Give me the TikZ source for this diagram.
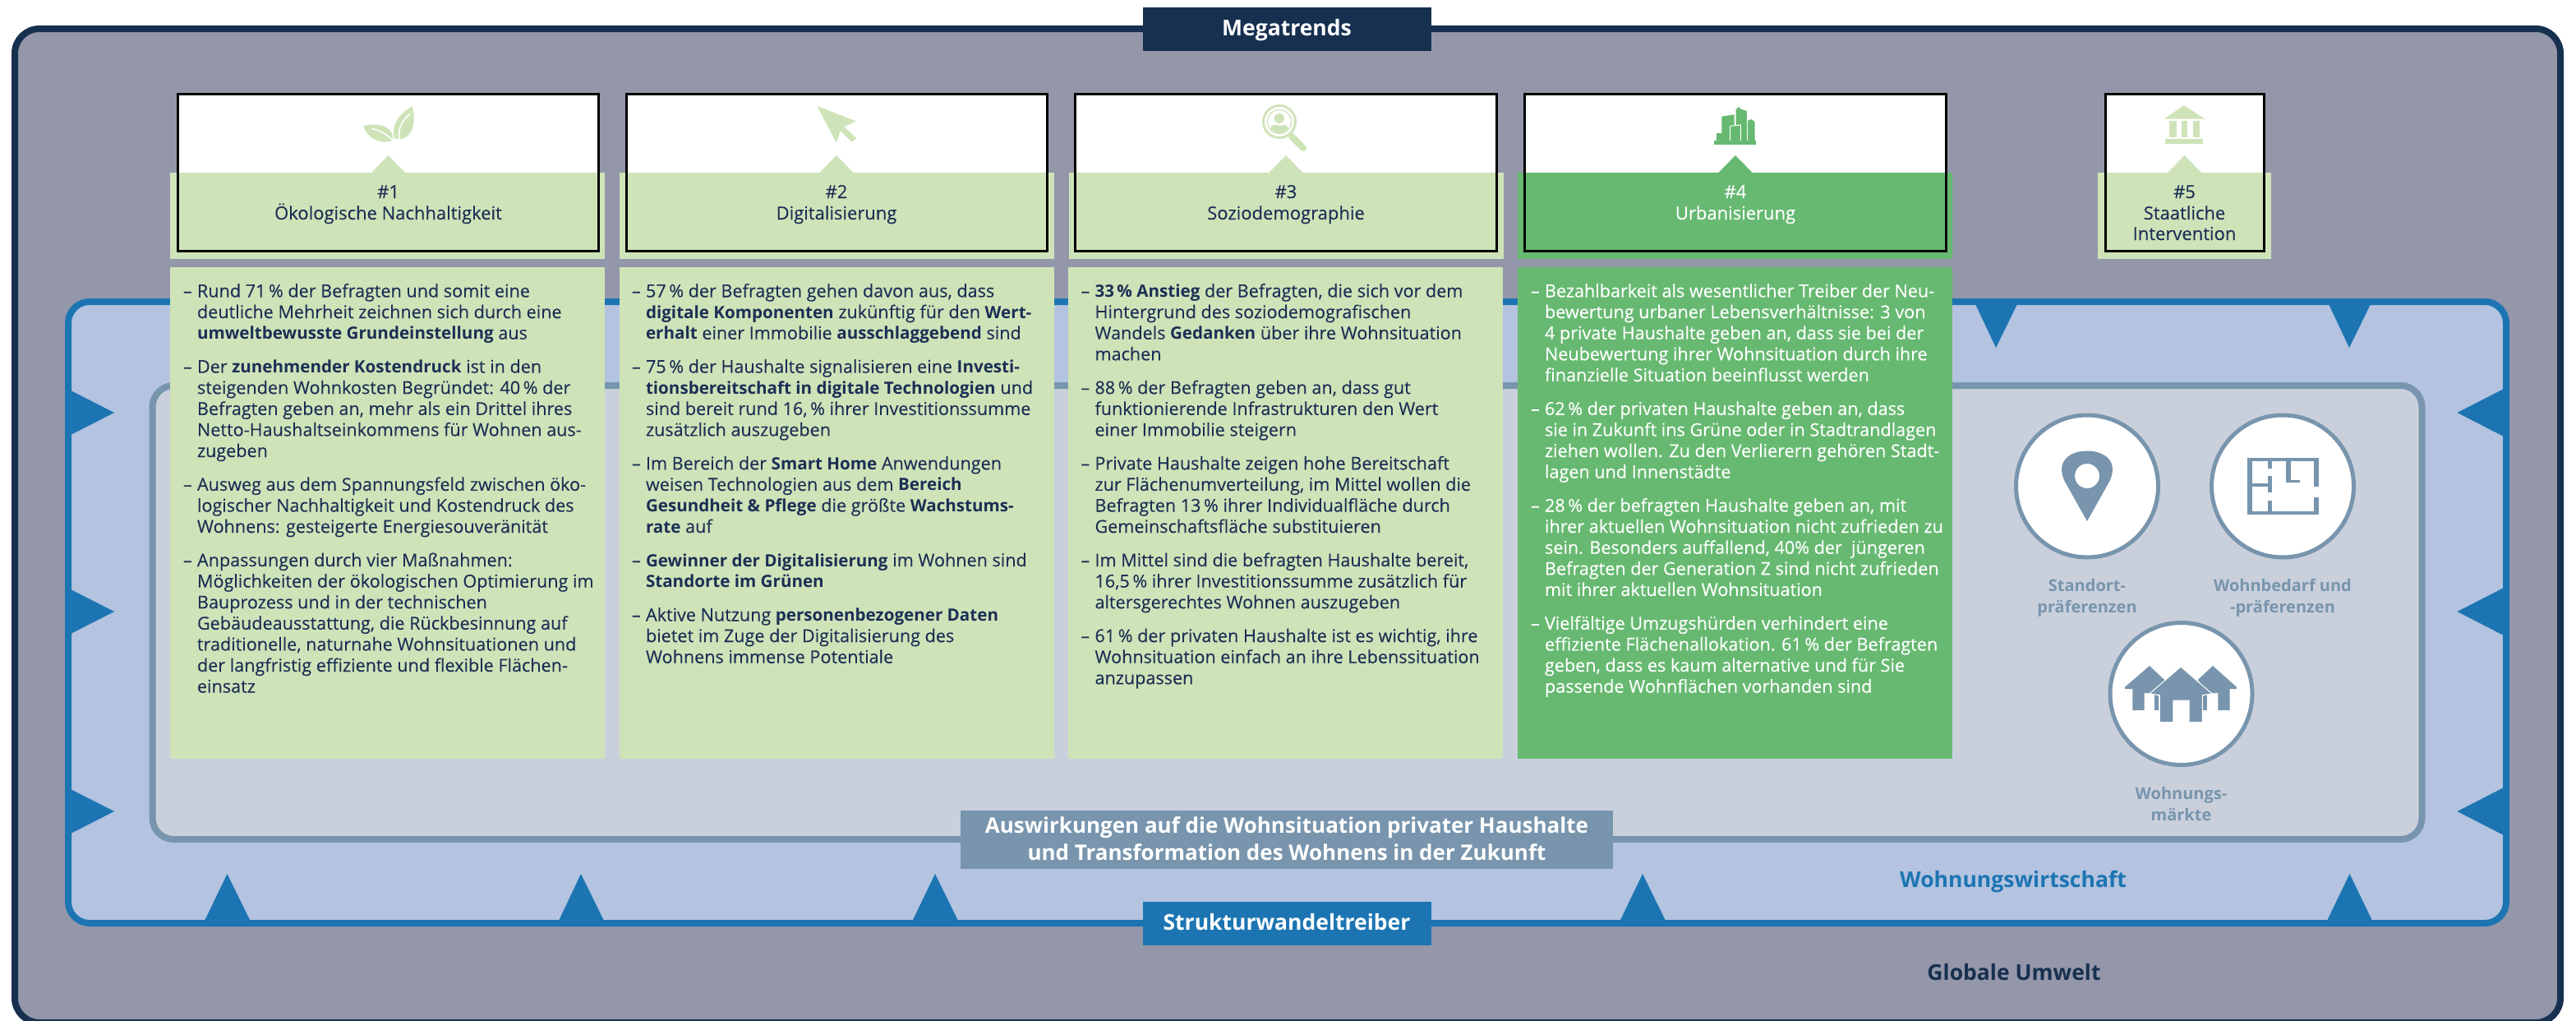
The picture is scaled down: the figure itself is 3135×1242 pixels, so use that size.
\documentclass[tikz,border=0pt]{standalone}
\usepackage{fontspec}
\setmainfont{Open Sans}[UprightFeatures={FakeBold=0.12}]
\newfontfamily\hv{Open Sans}
\renewcommand\textbf[1]{{\hv\bfseries\fontsize{20.6}{25.6}\selectfont #1}}
\definecolor{navy}{HTML}{17304F}
\definecolor{ink}{HTML}{1B2F55}
\definecolor{globe}{HTML}{9497A9}
\definecolor{mblue}{HTML}{1C75B2}
\definecolor{lblue}{HTML}{B3C3E0}
\definecolor{sgray}{HTML}{7895AD}
\definecolor{pale}{HTML}{C9D0DC}
\definecolor{lgreen}{HTML}{CFE3B9}
\definecolor{dgreen}{HTML}{67B971}
\newcommand\FF[1]{\par\noindent\makebox[17pt][l]{–}#1}
\newcommand\FL[1]{\par\vspace{15.3pt}\noindent\makebox[17pt][l]{–}#1}
\newcommand\NL[1]{\par\noindent\hspace*{17pt}#1}
\newcommand\pc{\,\%}
\newcommand\panelfont{\fontsize{21.6}{25.6}\selectfont}
\tikzset{
  txt/.style={inner sep=0pt,outer sep=0pt,font=\fontsize{22}{25}\selectfont,text=ink,anchor=base},
  heavy/.style={inner sep=0pt,outer sep=0pt,font=\hv\bfseries\fontsize{26.5}{33}\selectfont,anchor=base},
  heavyb/.style={inner sep=0pt,outer sep=0pt,font=\hv\bfseries\fontsize{26}{33}\selectfont,anchor=base},
  captxt/.style={inner sep=0pt,outer sep=0pt,font=\hv\bfseries\fontsize{20}{26}\selectfont,text=sgray,anchor=base},
  bodytxt/.style={inner sep=0pt,outer sep=0pt,anchor=base west},
  ringdisc/.style={draw=sgray,line width=5pt,fill=white},
}
\begin{document}
\begin{tikzpicture}[x=1pt,y=-1pt]
\useasboundingbox (0,0) rectangle (3135,1242);
\begin{scope}
\clip (0,0) rectangle (3135,1242);
\draw[navy,fill=globe,line width=8pt,rounded corners=30pt] (18,35) rectangle (3116,1244);
\end{scope}
% Wohnungswirtschaft
\draw[mblue,fill=lblue,line width=8pt,rounded corners=26pt] (83,367) rectangle (3050,1123);
\draw[sgray,fill=pale,line width=8pt,rounded corners=26pt] (185.5,469) rectangle (2947.5,1021);
% triangles
\foreach \a/\b/\c in {249/276.5/304.5,680/707/735,1110.5/1138/1166,1971.6/1999/2027,2832/2859.5/2887}
  \fill[mblue] (\a,1120) -- (\b,1063) -- (\c,1120) -- cycle;
\foreach \a/\b/\c in {2404/2429/2455,2834/2859/2885}
  \fill[mblue] (\a,370) -- (\b,423) -- (\c,370) -- cycle;
\foreach \m in {502,744,987}{
  \fill[mblue] (86,\m-27) -- (139,\m) -- (86,\m+27) -- cycle;
  \fill[mblue] (3047,\m-29) -- (2990.5,\m) -- (3047,\m+29) -- cycle;
}
% cards: white, band, triangle
\foreach \xa/\xb/\ba/\bb/\cc/\col in {216/728.5/207/736/472.5/lgreen,762/1274/754/1283/1018/lgreen,1308/1821.5/1301/1830/1565/lgreen,1855.5/2368/1847/2376/2112/dgreen,2562/2755/2553/2764/2658.5/lgreen}{
  \fill[white] (\xa,114) rectangle (\xb,212);
  \fill[\col] (\ba,210) rectangle (\bb,315);
  \fill[\col] (\cc-21,210.5) -- (\cc,189) -- (\cc+21,210.5) -- cycle;
  \draw[black,line width=3pt] (\xa,114.5) rectangle (\xb,305.5);
}
% panels
\fill[lgreen] (207,325) rectangle (736,923);
\fill[lgreen] (754,325) rectangle (1283,923);
\fill[lgreen] (1300,325) rectangle (1829,923);
\fill[dgreen] (1847,325) rectangle (2376,923);
% icons
\begin{scope}[shift={(0,0)},x=0.4847pt,y=-0.3333pt]
\fill[lgreen] (1035,388) .. controls (1000,415) and (982,460) .. (990,505) -- (1008,508) .. controls (1045,490) and (1042,430) .. cycle;
\draw[white,line width=1.5pt] (1030,415) .. controls (1005,445) and (1000,475) .. (1002,510);
\fill[lgreen] (912,460) .. controls (935,450) and (975,450) .. (985,490) -- (987,512) .. controls (960,530) and (925,510) .. cycle;
\draw[white,line width=1.5pt] (935,470) .. controls (955,475) and (975,495) .. (987,512);
\end{scope}
\begin{scope}[shift={(900,90)},x=0.6378pt,y=-0.3333pt]
\fill[lgreen] (148,117) -- (222,172) -- (200,193) -- (223,235) -- (214,248) -- (192,207) -- (185,252) -- cycle;
\end{scope}
\draw[lgreen,line width=3pt] (1557,148) circle [radius=19.5];
\draw[lgreen,line width=1.2pt] (1557,148) circle [radius=14.5];
\fill[lgreen] (1557,144) circle [radius=6];
\fill[lgreen] (1546,156) .. controls (1548,150) and (1552,152) .. (1557,153) .. controls (1562,152) and (1566,150) .. (1568,156) .. controls (1562,164) and (1552,164) .. cycle;
\draw[lgreen,line width=8pt,line cap=round] (1572,166) -- (1586,180);
\begin{scope}[shift={(1800,90)},x=0.6378pt,y=-0.3333pt]
\fill[dgreen] (448,243) rectangle (528,258);
\fill[dgreen] (453,215) rectangle (478,245);
\fill[dgreen] (463,155) -- (487,148) -- (487,245) -- (463,245) -- cycle;
\fill[dgreen] (490,130) -- (496,120) -- (499,128) -- (511,135) -- (511,245) -- (490,245) -- cycle;
\fill[dgreen] (513,170) -- (520,165) -- (526,175) -- (526,245) -- (513,245) -- cycle;
\draw[white,line width=1pt,fill=dgreen] (479,243) -- (479,190) -- (499,186) -- (499,243);
\fill[lgreen] (1345,115) -- (1385,164) -- (1307,164) -- cycle;
\fill[lgreen] (1317,171) rectangle (1331,232);
\fill[lgreen] (1340,171) rectangle (1352,232);
\fill[lgreen] (1362,171) rectangle (1375,232);
\fill[lgreen] (1309,237) rectangle (1382,254);
\end{scope}
% circles
\draw[ringdisc] (2540,591.5) circle [radius=86.5];
\draw[ringdisc] (2778,591.5) circle [radius=86.5];
\draw[ringdisc] (2654.5,844) circle [radius=86.5];
% pin
\fill[sgray,even odd rule] (2540,634) -- (2513,586) .. controls (2501,562) and (2518,548.5) .. (2540,548.5) .. controls (2562,548.5) and (2579,562) .. (2567,586) -- cycle (2540,579) circle [radius=15];
\begin{scope}[shift={(2380,470)},x=0.4815pt,y=-0.3571pt]
% floor plan
\fill[sgray] (738,244) rectangle (918,256);
\fill[sgray] (738,244) rectangle (750,438);
\fill[sgray] (738,425) rectangle (918,438);
\fill[sgray] (906,244) rectangle (918,343);
\fill[sgray] (906,378) rectangle (918,438);
\fill[sgray] (790,256) rectangle (800,280);
\fill[sgray] (790,305) rectangle (800,362);
\fill[sgray] (790,388) rectangle (800,425);
\fill[sgray] (750,330) rectangle (790,343);
\fill[sgray] (835,256) rectangle (847,328);
\fill[sgray] (835,318) rectangle (870,328);
% houses
\fill[sgray] (490,952) -- (528,1000) -- (500,1047) -- (513,1055) -- (513,1103) -- (503,1103) -- (503,1045) -- (477,1045) -- (477,1103) -- (447,1103) -- (447,1031) -- (428,1031) -- (428,1024) -- cycle;
\fill[sgray] (650,952) -- (710,1024) -- (710,1031) -- (693,1031) -- (693,1103) -- (663,1103) -- (663,1045) -- (635,1045) -- (635,1103) -- (625,1103) -- (625,1055) -- (640,1047) -- (612,1000) -- cycle;
\draw[white,line width=1pt,fill=sgray] (569,955) -- (648,1047) -- (624,1052) -- (624,1144) -- (590,1144) -- (590,1070) -- (550,1070) -- (550,1144) -- (516,1144) -- (516,1052) -- (490,1047) -- cycle;
\end{scope}
% top and bottom labels
\fill[navy] (1391,9) rectangle (1742,62);
\fill[mblue] (1391,1097) rectangle (1742,1150);
\fill[sgray] (1169,986) rectangle (1963,1057);
\node[heavy,text=white] (mega) at (1566,43) {Megatrends};
\node[heavy,text=white] (struktur) at (1566,1131) {Strukturwandeltreiber};
\node[heavyb,text=white] (auswirk) at (1566,1013) {Auswirkungen auf die Wohnsituation privater Haushalte};
\node[heavyb,text=white] (auswirkb) at (1566,1046) {und Transformation des Wohnens in der Zukunft};
\node[heavy,text=mblue] (wirtschaft) at (2450,1079) {Wohnungswirtschaft};
\node[heavy,text=navy] (globale) at (2451,1192) {Globale Umwelt};
% card titles
\node[txt] (n1) at (472.5,241) {\#1};
\node[txt] (t1) at (472.5,267) {Ökologische Nachhaltigkeit};
\node[txt] (n2) at (1018,241) {\#2};
\node[txt] (t2) at (1018,267) {Digitalisierung};
\node[txt] (n3) at (1565,241) {\#3};
\node[txt] (t3) at (1565,267) {Soziodemographie};
\node[txt,text=white] (n4) at (2112,241) {\#4};
\node[txt,text=white] (t4) at (2112,267) {Urbanisierung};
\node[txt] (n5) at (2658.5,241) {\#5};
\node[txt] (t5) at (2658.5,267) {Staatliche};
\node[txt] (t5b) at (2658.5,292) {Intervention};
% captions
\node[captxt] (c1) at (2540,719) {Standort-};
\node[captxt] (c1b) at (2540,745) {präferenzen};
\node[captxt] (c2) at (2778,719) {Wohnbedarf und};
\node[captxt] (c2b) at (2778,745) {-präferenzen};
\node[captxt] (c3) at (2654.5,972.5) {Wohnungs-};
\node[captxt] (c3b) at (2654.5,998) {märkte};
% panel bodies
\node[bodytxt,text=ink] (p1) at (223,361.5) {\begin{minipage}[t]{520pt}\panelfont
\FF{Rund 71\pc{} der Befragten und somit eine}
\NL{deutliche Mehrheit zeichnen sich durch eine}
\NL{\textbf{umweltbewusste Grundeinstellung} aus}
\FL{Der \textbf{zunehmender Kostendruck} ist in den}
\NL{steigenden Wohnkosten Begründet: 40\pc{} der}
\NL{Befragten geben an, mehr als ein Drittel ihres}
\NL{Netto-Haushaltseinkommens für Wohnen aus-}
\NL{zugeben}
\FL{Ausweg aus dem Spannungsfeld zwischen öko-}
\NL{logischer Nachhaltigkeit und Kostendruck des}
\NL{Wohnens: gesteigerte Energiesouveränität}
\FL{Anpassungen durch vier Maßnahmen:}
\NL{Möglichkeiten der ökologischen Optimierung im}
\NL{Bauprozess und in der technischen}
\NL{Gebäudeausstattung, die Rückbesinnung auf}
\NL{traditionelle, naturnahe Wohnsituationen und}
\NL{der langfristig effiziente und flexible Flächen-}
\NL{einsatz}
\end{minipage}};
\node[bodytxt,text=ink] (p2) at (769,361.5) {\begin{minipage}[t]{520pt}\panelfont
\FF{57\pc{} der Befragten gehen davon aus, dass}
\NL{\textbf{digitale Komponenten} zukünftig für den \textbf{Wert-}}
\NL{\textbf{erhalt} einer Immobilie \textbf{ausschlaggebend} sind}
\FL{75\pc{} der Haushalte signalisieren eine \textbf{Investi-}}
\NL{\textbf{tionsbereitschaft in digitale Technologien} und}
\NL{sind bereit rund 16,\pc{} ihrer Investitionssumme}
\NL{zusätzlich auszugeben}
\FL{Im Bereich der \textbf{Smart Home} Anwendungen}
\NL{weisen Technologien aus dem \textbf{Bereich}}
\NL{\textbf{Gesundheit \& Pflege} die größte \textbf{Wachstums-}}
\NL{\textbf{rate} auf}
\FL{\textbf{Gewinner der Digitalisierung} im Wohnen sind}
\NL{\textbf{Standorte im Grünen}}
\FL{Aktive Nutzung \textbf{personenbezogener Daten}}
\NL{bietet im Zuge der Digitalisierung des}
\NL{Wohnens immense Potentiale}
\end{minipage}};
\node[bodytxt,text=ink] (p3) at (1315.5,361.5) {\begin{minipage}[t]{520pt}\panelfont
\FF{\textbf{33\pc{} Anstieg} der Befragten, die sich vor dem}
\NL{Hintergrund des soziodemografischen}
\NL{Wandels \textbf{Gedanken} über ihre Wohnsituation}
\NL{machen}
\FL{88\pc{} der Befragten geben an, dass gut}
\NL{funktionierende Infrastrukturen den Wert}
\NL{einer Immobilie steigern}
\FL{Private Haushalte zeigen hohe Bereitschaft}
\NL{zur Flächenumverteilung, im Mittel wollen die}
\NL{Befragten 13\pc{} ihrer Individualfläche durch}
\NL{Gemeinschaftsfläche substituieren}
\FL{Im Mittel sind die befragten Haushalte bereit,}
\NL{16,5\pc{} ihrer Investitionssumme zusätzlich für}
\NL{altersgerechtes Wohnen auszugeben}
\FL{61\pc{} der privaten Haushalte ist es wichtig, ihre}
\NL{Wohnsituation einfach an ihre Lebenssituation}
\NL{anzupassen}
\end{minipage}};
\node[bodytxt,text=white] (p4) at (1863,361.5) {\begin{minipage}[t]{520pt}\panelfont
\FF{Bezahlbarkeit als wesentlicher Treiber der Neu-}
\NL{bewertung urbaner Lebensverhältnisse: 3 von}
\NL{4 private Haushalte geben an, dass sie bei der}
\NL{Neubewertung ihrer Wohnsituation durch ihre}
\NL{finanzielle Situation beeinflusst werden}
\FL{62\pc{} der privaten Haushalte geben an, dass}
\NL{sie in Zukunft ins Grüne oder in Stadtrandlagen}
\NL{ziehen wollen. Zu den Verlierern gehören Stadt-}
\NL{lagen und Innenstädte}
\FL{28\pc{} der befragten Haushalte geben an, mit}
\NL{ihrer aktuellen Wohnsituation nicht zufrieden zu}
\NL{sein. Besonders auffallend, 40\% der\ \ jüngeren}
\NL{Befragten der Generation Z sind nicht zufrieden}
\NL{mit ihrer aktuellen Wohnsituation}
\FL{Vielfältige Umzugshürden verhindert eine}
\NL{effiziente Flächenallokation. 61\pc{} der Befragten}
\NL{geben, dass es kaum alternative und für Sie}
\NL{passende Wohnflächen vorhanden sind}
\end{minipage}};
\end{tikzpicture}
\end{document}
